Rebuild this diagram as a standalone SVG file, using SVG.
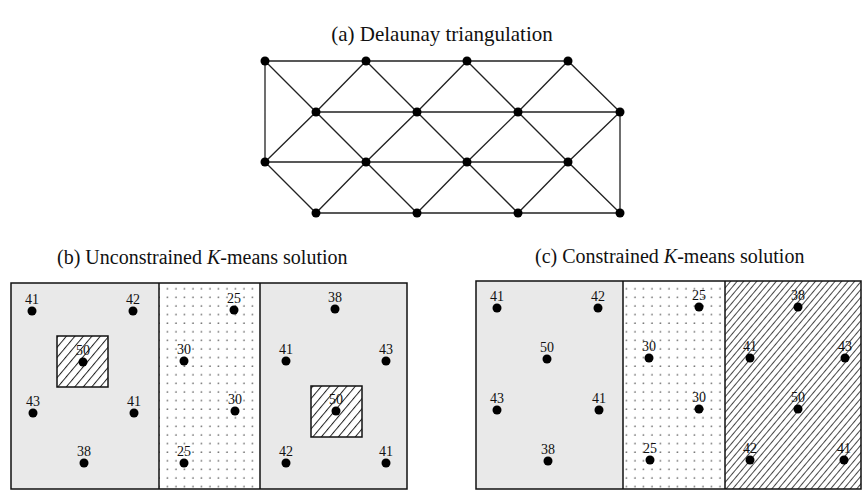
<svg xmlns="http://www.w3.org/2000/svg" width="862" height="491" viewBox="0 0 862 491">
<defs>
<pattern id="dots" width="8.5" height="8.6" patternUnits="userSpaceOnUse" x="2" y="1">
<rect width="8.5" height="8.6" fill="#ffffff"/>
<circle cx="4" cy="4" r="0.8" fill="#666"/>
</pattern>
<pattern id="hatch" width="5" height="10" patternUnits="userSpaceOnUse" patternTransform="rotate(40)">
<rect width="5" height="10" fill="#ffffff"/>
<line x1="0.5" y1="0" x2="0.5" y2="10" stroke="#333" stroke-width="0.9"/>
</pattern>
<pattern id="hatchsq" width="6.5" height="10" patternUnits="userSpaceOnUse" patternTransform="rotate(40)">
<rect width="6.5" height="10" fill="#ffffff"/>
<line x1="0.5" y1="0" x2="0.5" y2="10" stroke="#222" stroke-width="1"/>
</pattern>
</defs>
<style>
.t{font-family:"Liberation Serif","Times New Roman",serif;fill:#111}
.title{font-size:20px}
.lab{font-size:14px;text-anchor:middle}
.pt{fill:#000}
.edge{stroke:#222;stroke-width:1.3;fill:none}
.box{stroke:#111;stroke-width:1.5}
.gray{fill:#e9e9e9}
</style>
<rect width="862" height="491" fill="#ffffff"/>

<!-- (a) Delaunay triangulation -->
<text class="t" x="442" y="41" font-size="21" text-anchor="middle">(a) Delaunay triangulation</text>
<g id="connectors">
<path class="edge" d="M265,61 H568 M316,112 H620 M265,162 H568 M316,213 H620 M265,61 V162 M620,112 V213
M265,61 L316,112 L366,61 L417,112 L467,61 L518,112 L568,61 L620,112
M265,162 L316,112 L366,162 L417,112 L467,162 L518,112 L568,162 L620,112
M265,162 L316,213 L366,162 L417,213 L467,162 L518,213 L568,162 L620,213"/>
</g>
<g id="n1"><circle class="pt" cx="265" cy="61" r="4.5"/></g>
<g id="n2"><circle class="pt" cx="366" cy="61" r="4.5"/></g>
<g id="n3"><circle class="pt" cx="467" cy="61" r="4.5"/></g>
<g id="n4"><circle class="pt" cx="568" cy="61" r="4.5"/></g>
<g id="n5"><circle class="pt" cx="316" cy="112" r="4.5"/></g>
<g id="n6"><circle class="pt" cx="417" cy="112" r="4.5"/></g>
<g id="n7"><circle class="pt" cx="518" cy="112" r="4.5"/></g>
<g id="n8"><circle class="pt" cx="620" cy="112" r="4.5"/></g>
<g id="n9"><circle class="pt" cx="265" cy="162" r="4.5"/></g>
<g id="n10"><circle class="pt" cx="366" cy="162" r="4.5"/></g>
<g id="n11"><circle class="pt" cx="467" cy="162" r="4.5"/></g>
<g id="n12"><circle class="pt" cx="568" cy="162" r="4.5"/></g>
<g id="n13"><circle class="pt" cx="316" cy="213" r="4.5"/></g>
<g id="n14"><circle class="pt" cx="417" cy="213" r="4.5"/></g>
<g id="n15"><circle class="pt" cx="518" cy="213" r="4.5"/></g>
<g id="n16"><circle class="pt" cx="620" cy="213" r="4.5"/></g>

<!-- (b) Unconstrained -->
<text class="t title" x="57" y="264">(b) Unconstrained <tspan font-style="italic">K</tspan>-means solution</text>
<g id="panel-b">
<rect class="gray" x="11" y="283" width="148" height="206"/>
<rect x="159" y="283" width="101" height="206" fill="url(#dots)"/>
<rect class="gray" x="260" y="283" width="147" height="206"/>
<rect x="57" y="336" width="51" height="51" fill="url(#hatchsq)" stroke="#111" stroke-width="1.5"/>
<rect x="311" y="386" width="51" height="51" fill="url(#hatchsq)" stroke="#111" stroke-width="1.5"/>
<rect class="box" x="11" y="283" width="396" height="206" fill="none"/>
<line class="box" x1="159" y1="283" x2="159" y2="489"/>
<line class="box" x1="260" y1="283" x2="260" y2="489"/>
</g>
<g id="points-b">
<circle class="pt" cx="32" cy="311" r="4.5"/><text class="t lab" x="32" y="304">41</text>
<circle class="pt" cx="133" cy="311" r="4.5"/><text class="t lab" x="133" y="304">42</text>
<circle class="pt" cx="83" cy="362" r="4.5"/><text class="t lab" x="83" y="355">50</text>
<circle class="pt" cx="33" cy="413" r="4.5"/><text class="t lab" x="33" y="406">43</text>
<circle class="pt" cx="134" cy="413" r="4.5"/><text class="t lab" x="134" y="406">41</text>
<circle class="pt" cx="84" cy="463" r="4.5"/><text class="t lab" x="84" y="456">38</text>
<circle class="pt" cx="234" cy="310" r="4.5"/><text class="t lab" x="234" y="303">25</text>
<circle class="pt" cx="184" cy="361" r="4.5"/><text class="t lab" x="184" y="354">30</text>
<circle class="pt" cx="235" cy="411" r="4.5"/><text class="t lab" x="235" y="404">30</text>
<circle class="pt" cx="184" cy="463" r="4.5"/><text class="t lab" x="184" y="456">25</text>
<circle class="pt" cx="335" cy="309" r="4.5"/><text class="t lab" x="335" y="302">38</text>
<circle class="pt" cx="286" cy="361" r="4.5"/><text class="t lab" x="286" y="354">41</text>
<circle class="pt" cx="386" cy="361" r="4.5"/><text class="t lab" x="386" y="354">43</text>
<circle class="pt" cx="336" cy="411" r="4.5"/><text class="t lab" x="336" y="404">50</text>
<circle class="pt" cx="286" cy="463" r="4.5"/><text class="t lab" x="286" y="456">42</text>
<circle class="pt" cx="386" cy="463" r="4.5"/><text class="t lab" x="386" y="456">41</text>
</g>

<!-- (c) Constrained -->
<text class="t title" x="535" y="263">(c) Constrained <tspan font-style="italic">K</tspan>-means solution</text>
<g id="panel-c">
<rect class="gray" x="476" y="281" width="147" height="208"/>
<rect x="623" y="281" width="102" height="208" fill="url(#dots)"/>
<rect x="725" y="281" width="136" height="208" fill="url(#hatch)"/>
<rect class="box" x="476" y="281" width="385" height="208" fill="none"/>
<line class="box" x1="623" y1="281" x2="623" y2="489"/>
<line class="box" x1="725" y1="281" x2="725" y2="489"/>
</g>
<g id="points-c">
<circle class="pt" cx="497" cy="308" r="4.5"/><text class="t lab" x="497" y="301">41</text>
<circle class="pt" cx="598" cy="308" r="4.5"/><text class="t lab" x="598" y="301">42</text>
<circle class="pt" cx="547" cy="359" r="4.5"/><text class="t lab" x="547" y="352">50</text>
<circle class="pt" cx="497" cy="410" r="4.5"/><text class="t lab" x="497" y="403">43</text>
<circle class="pt" cx="599" cy="410" r="4.5"/><text class="t lab" x="599" y="403">41</text>
<circle class="pt" cx="548" cy="461" r="4.5"/><text class="t lab" x="548" y="454">38</text>
<circle class="pt" cx="699" cy="307" r="4.5"/><text class="t lab" x="699" y="300">25</text>
<circle class="pt" cx="649" cy="358" r="4.5"/><text class="t lab" x="649" y="351">30</text>
<circle class="pt" cx="699" cy="409" r="4.5"/><text class="t lab" x="699" y="402">30</text>
<circle class="pt" cx="650" cy="460" r="4.5"/><text class="t lab" x="650" y="453">25</text>
<circle class="pt" cx="798" cy="307" r="4.5"/><text class="t lab" x="798" y="300">38</text>
<circle class="pt" cx="750" cy="358" r="4.5"/><text class="t lab" x="750" y="351">41</text>
<circle class="pt" cx="845" cy="358" r="4.5"/><text class="t lab" x="845" y="351">43</text>
<circle class="pt" cx="798" cy="409" r="4.5"/><text class="t lab" x="798" y="402">50</text>
<circle class="pt" cx="750" cy="460" r="4.5"/><text class="t lab" x="750" y="453">42</text>
<circle class="pt" cx="844" cy="460" r="4.5"/><text class="t lab" x="844" y="453">41</text>
</g>
</svg>
